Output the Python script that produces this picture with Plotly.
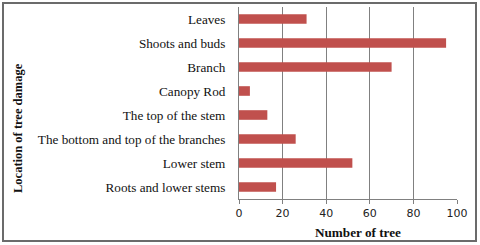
import plotly.graph_objects as go

categories = ["Leaves", "Shoots and buds", "Branch", "Canopy Rod", "The top of the stem",
              "The bottom and top of the branches", "Lower stem", "Roots and lower stems"]
values = [31, 95, 70, 5, 13, 26, 52, 17]
x_ticks = [0, 20, 40, 60, 80, 100]

W, H = 480, 245
L, R, T, B = 239, 23, 7, 46
pw, ph = W - L - R, H - T - B

def px(xp):
    return (xp - L) / pw

def py(yp):
    return (H - B - yp) / ph

fig = go.Figure(go.Bar(
    y=categories, x=values, orientation="h",
    marker=dict(color="#C0504D", line=dict(width=0)),
))

fig.update_layout(
    width=W, height=H,
    margin=dict(l=L, r=R, t=T, b=B),
    paper_bgcolor="white", plot_bgcolor="white",
    bargap=0.6, showlegend=False,
    xaxis=dict(range=[0, 100], tickvals=x_ticks, showgrid=True, gridcolor="#808080", gridwidth=1,
               showline=True, linecolor="#808080", linewidth=1, ticks="outside", ticklen=4,
               tickcolor="#808080", zeroline=False,
               tickfont=dict(family="DejaVu Sans", size=11, color="#222")),
    yaxis=dict(autorange="reversed", showline=True, linecolor="#808080", linewidth=1,
               ticks="", ticklabelstandoff=10, showgrid=False,
               tickfont=dict(family="Liberation Serif", size=13.2, color="#111")),
    annotations=[
        dict(text="<b>Number of tree</b>", x=px(357.5), y=py(232), xref="paper", yref="paper",
             showarrow=False, xanchor="center", yanchor="middle",
             font=dict(family="Liberation Serif", size=13.2, color="#111")),
        dict(text="<b>Location of tree damage</b>", x=px(18), y=py(128), xref="paper", yref="paper",
             showarrow=False, xanchor="center", yanchor="middle", textangle=-90,
             font=dict(family="Liberation Serif", size=12.5, color="#111")),
    ],
    shapes=[dict(type="rect", xref="paper", yref="paper",
                 x0=px(3), x1=px(476), y0=py(241), y1=py(3),
                 line=dict(color="#6b6b6b", width=2), layer="above")],
)

fig.write_html("out.html", config={"displayModeBar": False},
               post_script="document.body.style.margin='0';document.body.style.padding='0';")
